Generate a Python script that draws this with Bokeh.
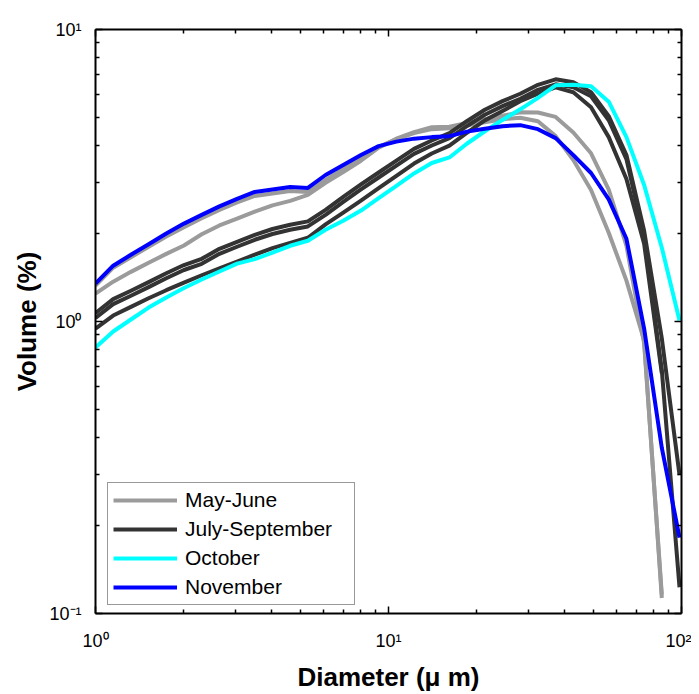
from bokeh.plotting import figure
from bokeh.models import (LogAxis, FixedTicker, CustomJSTickFormatter, Legend, LegendItem)
from bokeh.embed import file_html
from bokeh.resources import INLINE

# Particle diameter grid (micrometres)
diameter = [1.000, 1.149, 1.321, 1.518, 1.744, 2.004, 2.304, 2.648, 3.042, 3.496,
            4.018, 4.617, 5.306, 6.098, 7.008, 8.054, 9.256, 10.64, 12.22, 14.05,
            16.14, 18.55, 21.32, 24.50, 28.16, 32.36, 37.19, 42.74, 49.12, 56.45,
            64.87, 74.55, 85.67, 98.45]

# Volume (%) series
may_june_a = [1.327, 1.529, 1.660, 1.803, 1.955, 2.105, 2.256, 2.411, 2.558, 2.692,
              2.746, 2.800, 2.778, 3.052, 3.328, 3.658, 3.956, 4.213, 4.416, 4.557,
              4.593, 4.703, 4.815, 4.930, 4.989, 4.853, 4.313, 3.572, 2.822, 2.013,
              1.380, 0.861, 0.113]
may_june_b = [1.246, 1.369, 1.479, 1.590, 1.704, 1.821, 1.989, 2.133, 2.250, 2.379,
              2.498, 2.588, 2.713, 2.986, 3.251, 3.554, 3.940, 4.226, 4.451, 4.629,
              4.644, 4.788, 4.926, 5.064, 5.210, 5.198, 5.020, 4.440, 3.768, 2.831,
              1.820, 0.841, 0.116]
july_sep_a = [1.069, 1.193, 1.274, 1.364, 1.463, 1.561, 1.639, 1.774, 1.875, 1.981,
              2.074, 2.145, 2.202, 2.411, 2.671, 2.946, 3.238, 3.557, 3.901, 4.167,
              4.416, 4.861, 5.312, 5.683, 6.024, 6.466, 6.752, 6.594, 6.095, 5.048,
              3.715, 2.045, 0.875, 0.298]
july_sep_b = [1.028, 1.147, 1.225, 1.311, 1.406, 1.501, 1.576, 1.705, 1.803, 1.905,
              1.994, 2.062, 2.116, 2.318, 2.568, 2.833, 3.113, 3.420, 3.751, 4.006,
              4.246, 4.674, 5.108, 5.465, 5.792, 6.216, 6.492, 6.339, 5.905, 4.891,
              3.600, 1.950, 0.681, 0.123]
july_sep_c = [0.946, 1.048, 1.122, 1.201, 1.280, 1.359, 1.440, 1.522, 1.605, 1.693,
              1.783, 1.859, 1.935, 2.150, 2.359, 2.594, 2.861, 3.155, 3.475, 3.762,
              4.003, 4.431, 4.884, 5.257, 5.679, 6.033, 6.339, 6.095, 5.418, 4.280,
              3.076, 1.846, 0.665]
october = [0.815, 0.924, 1.016, 1.116, 1.209, 1.302, 1.392, 1.483, 1.579, 1.635,
           1.720, 1.817, 1.890, 2.061, 2.212, 2.398, 2.646, 2.912, 3.213, 3.489,
           3.646, 4.070, 4.482, 4.902, 5.329, 5.833, 6.441, 6.466, 6.391, 5.661,
           4.280, 2.935, 1.789, 1.008]
november = [1.348, 1.553, 1.693, 1.839, 2.002, 2.164, 2.318, 2.479, 2.630, 2.778,
            2.833, 2.888, 2.867, 3.175, 3.434, 3.715, 3.987, 4.130, 4.229, 4.280,
            4.313, 4.469, 4.575, 4.666, 4.703, 4.557, 4.246, 3.715, 3.225, 2.619,
            1.920, 0.946, 0.369, 0.182]

groups = [
    ("May-June", "#9b9b9b", [may_june_a, may_june_b]),
    ("July-September", "#333333", [july_sep_a, july_sep_b, july_sep_c]),
    ("October", "#00ffff", [october]),
    ("November", "#0000ff", [november]),
]

x_major = [1, 10, 100]
y_major = [0.1, 1, 10]

FONT = "Liberation Sans"

p = figure(width=691, height=694, x_axis_type="log", y_axis_type="log",
           x_range=(1, 100), y_range=(0.1, 10),
           output_backend="svg", toolbar_location=None,
           min_border_left=95, min_border_right=10, min_border_top=29,
           min_border_bottom=78)
p.grid.visible = False
p.outline_line_color = None
p.background_fill_color = "white"
p.border_fill_color = "white"

def minors(majors):
    out = []
    for m in majors[:-1]:
        out += [m * k for k in range(2, 10)]
    return out

fmt_code = """
const sup = {"-": "\u207b", "0": "\u2070", "1": "\u00b9", "2": "\u00b2", "3": "\u00b3",
             "4": "\u2074", "5": "\u2075", "6": "\u2076", "7": "\u2077", "8": "\u2078", "9": "\u2079"};
const e = Math.round(Math.log10(tick));
return "10" + String(e).split("").map(c => sup[c]).join("");
"""

def style_axis(ax):
    ax.axis_line_width = 2
    ax.axis_line_color = "black"
    ax.major_tick_in = 7
    ax.major_tick_out = 0
    ax.minor_tick_in = 4
    ax.minor_tick_out = 0
    ax.major_tick_line_width = 1.5
    ax.minor_tick_line_width = 1.5
    ax.major_tick_line_color = "black"
    ax.minor_tick_line_color = "black"
    ax.major_label_text_font = FONT
    ax.major_label_text_font_size = "18px"
    ax.major_label_text_color = "black"
    ax.axis_label_text_font = FONT
    ax.axis_label_text_font_style = "bold"
    ax.axis_label_text_font_size = "26px"
    ax.axis_label_text_color = "black"

xa = p.xaxis[0]
ya = p.yaxis[0]
xa.ticker = FixedTicker(ticks=x_major, minor_ticks=minors(x_major))
ya.ticker = FixedTicker(ticks=y_major, minor_ticks=minors(y_major))
xa.formatter = CustomJSTickFormatter(code=fmt_code)
ya.formatter = CustomJSTickFormatter(code=fmt_code)
style_axis(xa)
style_axis(ya)
xa.axis_label = "Diameter (\u03bc m)"
ya.axis_label = "Volume (%)"
xa.major_label_standoff = 17
xa.axis_label_standoff = 8
ya.major_label_standoff = 14
ya.axis_label_standoff = 4

blank = "return '';"
top = LogAxis(ticker=FixedTicker(ticks=x_major, minor_ticks=minors(x_major)),
              formatter=CustomJSTickFormatter(code=blank))
style_axis(top)
top.major_label_standoff = 0
p.add_layout(top, "above")
right = LogAxis(ticker=FixedTicker(ticks=y_major, minor_ticks=minors(y_major)),
                formatter=CustomJSTickFormatter(code=blank))
style_axis(right)
right.major_label_standoff = 0
p.add_layout(right, "right")

items = []
for label, color, series in groups:
    rs = []
    for s in series:
        r = p.line(diameter[:len(s)], s, line_color=color, line_width=4,
                   line_join="round", line_cap="butt")
        rs.append(r)
    items.append(LegendItem(label=label, renderers=[rs[0]]))

legend = Legend(items=items, location=(12, 8), margin=0,
                label_text_font=FONT, label_text_font_size="21px",
                label_text_color="black",
                glyph_width=64, glyph_height=20, label_height=20, label_width=164,
                spacing=5, padding=5, label_standoff=8,
                border_line_color="#333333", border_line_width=1,
                background_fill_color="white", background_fill_alpha=1.0)
p.add_layout(legend)

open("out.html", "w").write(file_html(p, INLINE))
